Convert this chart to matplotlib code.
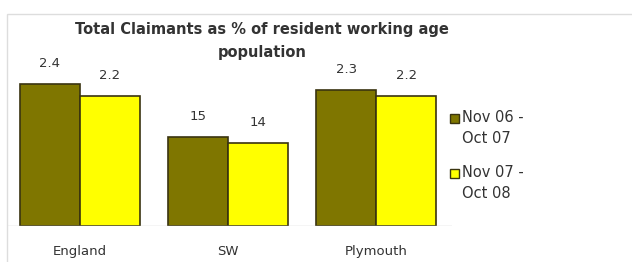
import matplotlib.pyplot as plt
from matplotlib.patches import Rectangle

# data
regions = ['England', 'SW', 'Plymouth']
period_1 = [2.4, 1.5, 2.3]
period_2 = [2.2, 1.4, 2.2]
# labels as printed on the original (decimal point missing on SW)
labels_1 = ['2.4', '15', '2.3']
labels_2 = ['2.2', '14', '2.2']
series_names = ['Nov 06 -\nOct 07', 'Nov 07 -\nOct 08']

dark = '#7f7600'
yellow = '#ffff00'
edge = '#3a3410'
text_col = '#333333'

W, H = 632, 262
fig = plt.figure(figsize=(W / 100, H / 100), dpi=100)

# outer chart frame (light grey)
fig.patches.append(Rectangle((7 / W, -0.1), 1.2, (H - 14) / H + 0.1,
                             transform=fig.transFigure, fill=False,
                             edgecolor='#dddddd', linewidth=1))

ax = fig.add_axes([7 / W, 36 / H, 445 / W, 177.6 / H])
ax.set_ylim(0, 3.0)
ax.set_xlim(-0.49, 2.51)

w = 0.405
x = range(len(regions))
b1 = ax.bar([i - w / 2 for i in x], period_1, w, color=dark,
            edgecolor=edge, linewidth=1.2)
b2 = ax.bar([i + w / 2 for i in x], period_2, w, color=yellow,
            edgecolor=edge, linewidth=1.2)

for bars, labs in ((b1, labels_1), (b2, labels_2)):
    for bar, lab in zip(bars, labs):
        ax.annotate(lab, (bar.get_x() + bar.get_width() / 2, bar.get_height()),
                    xytext=(0, 10), textcoords='offset points',
                    ha='center', va='bottom', fontsize=9.5, color=text_col)

ax.axhline(0, color='#cccccc', linewidth=1)
for s in ax.spines.values():
    s.set_visible(False)
ax.set_yticks([])
ax.set_xticks(list(x))
ax.set_xticklabels(regions, fontsize=9.5, color=text_col)
ax.tick_params(axis='x', length=0, pad=14)

fig.text(262 / W, 1 - 41 / H,
         'Total Claimants as % of resident working age\npopulation',
         ha='center', va='center', fontsize=10.5, fontweight='bold',
         color='#333333', linespacing=1.6)

# legend: square lines up with the first line of each entry
for name, colour, top in zip(series_names, [dark, yellow], [118, 173]):
    fig.patches.append(Rectangle((450 / W, 1 - (top + 4.5) / H), 9 / W, 9 / H,
                                 transform=fig.transFigure, facecolor=colour,
                                 edgecolor=edge, linewidth=1))
    fig.text(462 / W, 1 - (top - 8) / H, name, ha='left', va='top',
             fontsize=10.5, color=text_col, linespacing=1.5)

fig.savefig('out.png', dpi=100)
